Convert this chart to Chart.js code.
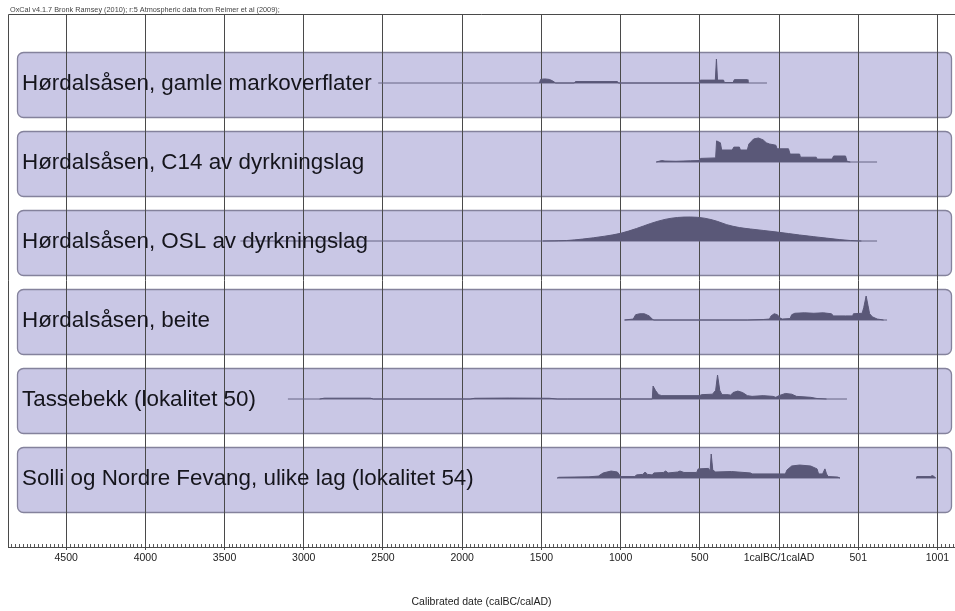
<!DOCTYPE html>
<html>
<head>
<meta charset="utf-8">
<script src="https://cdn.jsdelivr.net/npm/chart.js@4/dist/chart.umd.min.js"></script>
<style>
  html, body { margin: 0; padding: 0; background: #ffffff; }
  #wrap { width: 955px; height: 611px; position: relative; }
</style>
</head>
<body>
<div id="wrap"><canvas id="chart"></canvas></div>
<script>
// Calibrated date axis: negative = calBC, positive = calAD
const tickValues = [-4500, -4000, -3500, -3000, -2500, -2000, -1500, -1000, -500, 0, 500, 1000];
const tickLabels = ['4500', '4000', '3500', '3000', '2500', '2000', '1500', '1000', '500', '1calBC/1calAD', '501', '1001'];

const rowNames = [
  'Hørdalsåsen, gamle markoverflater',
  'Hørdalsåsen, C14 av dyrkningslag',
  'Hørdalsåsen, OSL av dyrkningslag',
  'Hørdalsåsen, beite',
  'Tassebekk (lokalitet 50)',
  'Solli og Nordre Fevang, ulike lag (lokalitet 54)'
];

// Extent of each summed distribution (drawn as the thin base line)
const rangeGamle   = [[-2530, -76]];
const rangeC14     = [[-775, 619]];
const rangeOSL     = [[-3400, 619]];
const rangeBeite   = [[-975, 682]];
const rangeTasse   = [[-3100, 429]];
const rangeSolli   = [[-1400, 385], [865, 990]];

// Summed probability, relative to each row's peak: [year, relative probability]
const probGamle = [
  [-1512, 0], [-1505, 0.15], [-1480, 0.17], [-1450, 0.15], [-1430, 0.09], [-1410, 0],
  [-1292, 0], [-1285, 0.06], [-1020, 0.06], [-1014, 0],
  [-502, 0], [-497, 0.12], [-402, 0.12], [-395, 1.0], [-388, 0.12], [-350, 0.12], [-345, 0.02],
  [-290, 0.02], [-282, 0.14], [-200, 0.14], [-196, 0]
];
const probC14 = [
  [-775, 0], [-740, 0.06], [-720, 0.04], [-650, 0.03], [-560, 0.05], [-505, 0.06], [-495, 0.15],
  [-400, 0.17], [-394, 0.88], [-370, 0.8], [-362, 0.5], [-295, 0.5], [-285, 0.62], [-250, 0.62],
  [-244, 0.5], [-200, 0.5], [-190, 0.75], [-160, 0.96], [-130, 1.0], [-100, 0.92], [-80, 0.8],
  [-60, 0.75], [-20, 0.7], [-12, 0.55], [60, 0.55], [70, 0.33], [130, 0.33], [135, 0.2],
  [235, 0.2], [240, 0.12], [335, 0.12], [345, 0.25], [420, 0.25], [430, 0.02], [450, 0]
];
const probOSL = [
  [-1490, 0], [-1340, 0.02], [-1240, 0.08], [-1100, 0.2], [-1000, 0.32], [-900, 0.52],
  [-810, 0.73], [-720, 0.9], [-640, 0.98], [-560, 1.0], [-470, 0.95], [-390, 0.82],
  [-330, 0.68], [-250, 0.56], [-180, 0.5], [-100, 0.44], [-10, 0.37], [60, 0.31],
  [130, 0.25], [220, 0.18], [300, 0.12], [380, 0.06], [450, 0.02], [520, 0]
];
const probBeite = [
  [-975, 0], [-920, 0.04], [-905, 0.22], [-880, 0.26], [-850, 0.26], [-820, 0.17], [-800, 0.04], [-790, 0],
  [-200, 0], [-100, 0.02], [-60, 0.04], [-50, 0.17], [-30, 0.26], [-10, 0.22], [5, 0.09], [20, 0.04],
  [70, 0.06], [80, 0.22], [100, 0.28], [160, 0.3], [220, 0.28], [280, 0.3], [330, 0.26], [345, 0.17],
  [420, 0.17], [465, 0.17], [470, 0.26], [525, 0.28], [535, 0.52], [550, 1.0], [562, 0.6],
  [572, 0.26], [590, 0.13], [620, 0.04], [660, 0]
];
const probTasse = [
  [-2900, 0], [-2870, 0.035], [-2580, 0.035], [-2560, 0],
  [-1950, 0], [-1920, 0.03], [-1700, 0.04], [-1450, 0.03], [-1400, 0],
  [-800, 0], [-795, 0.54], [-780, 0.36], [-760, 0.18], [-740, 0.14], [-500, 0.14], [-490, 0.18],
  [-420, 0.2], [-400, 0.36], [-388, 1.0], [-374, 0.36], [-360, 0.18], [-320, 0.18], [-305, 0.16],
  [-290, 0.27], [-260, 0.33], [-230, 0.27], [-200, 0.14], [-170, 0.11], [-100, 0.14], [-40, 0.11],
  [-20, 0.07], [0, 0.14], [40, 0.23], [80, 0.2], [110, 0.11], [200, 0.07], [240, 0.02], [300, 0]
];
const probSolli = [
  [-1400, 0], [-1390, 0.03], [-1200, 0.05], [-1140, 0.08], [-1110, 0.21], [-1060, 0.29],
  [-1020, 0.25], [-1000, 0.06], [-910, 0.06], [-900, 0.13], [-860, 0.15], [-845, 0.25],
  [-830, 0.15], [-800, 0.13], [-790, 0.21], [-730, 0.23], [-715, 0.29], [-700, 0.21],
  [-640, 0.25], [-625, 0.29], [-600, 0.23], [-520, 0.23], [-510, 0.38], [-445, 0.4],
  [-435, 0.29], [-428, 1.0], [-418, 0.33], [-400, 0.25], [-300, 0.27], [-180, 0.21],
  [-170, 0.17], [40, 0.17], [50, 0.33], [80, 0.5], [130, 0.54], [200, 0.5], [240, 0.38],
  [250, 0.17], [275, 0.17], [290, 0.38], [300, 0.17], [310, 0.06], [370, 0.04], [385, 0],
  [600, null],
  [865, 0], [870, 0.06], [955, 0.06], [968, 0.1], [980, 0.06], [988, 0]
];

const rowRanges = [rangeGamle, rangeC14, rangeOSL, rangeBeite, rangeTasse, rangeSolli];
const rowProbs  = [probGamle, probC14, probOSL, probBeite, probTasse, probSolli];
const rowSmooth = [false, false, true, false, false, false];

// Vertical layout in axis units (one unit per pixel of plot height)
const Y_MAX = 533;
const ROW_STEP = 79;
const FIRST_BASE = 464;
const PEAK = 24;
const baseOf = i => FIRST_BASE - ROW_STEP * i;

const PANEL_FILL = '#c9c7e5';
const PANEL_EDGE = '#84829c';
const DIST_FILL = '#5a5878';
const BASE_LINE = '#666484';
const FONT = '"Liberation Sans", Arial, sans-serif';

const datasets = [];
rowRanges.forEach((segs, i) => {
  const base = baseOf(i);
  const pts = [];
  segs.forEach((s, k) => {
    if (k > 0) pts.push({ x: (segs[k - 1][1] + s[0]) / 2, y: null });
    pts.push({ x: s[0], y: base }, { x: s[1], y: base });
  });
  datasets.push({
    data: pts, borderColor: BASE_LINE, borderWidth: 1, pointRadius: 0,
    fill: false, spanGaps: false, order: 2
  });
});
rowProbs.forEach((probs, i) => {
  const base = baseOf(i);
  datasets.push({
    data: probs.map(([x, p]) => ({ x, y: p === null ? null : base + p * PEAK })),
    borderColor: DIST_FILL, backgroundColor: DIST_FILL, borderWidth: 1,
    pointRadius: 0, fill: { value: base }, spanGaps: false,
    tension: rowSmooth[i] ? 0.4 : 0,
    cubicInterpolationMode: rowSmooth[i] ? 'monotone' : 'default',
    order: 1
  });
});

const panelsPlugin = {
  id: 'panels',
  beforeDraw(chart) {
    const { ctx, chartArea, scales } = chart;
    ctx.save();
    ctx.fillStyle = '#ffffff';
    ctx.fillRect(0, 0, chart.width, chart.height);
    rowNames.forEach((_, i) => {
      const base = baseOf(i);
      const top = scales.y.getPixelForValue(base + 31);
      const bot = scales.y.getPixelForValue(base - 34);
      const left = chartArea.left + 9.5;
      const right = chartArea.right - 3.5;
      ctx.beginPath();
      ctx.roundRect(left, Math.round(top) + 0.5, right - left, Math.round(bot - top), 6);
      ctx.fillStyle = PANEL_FILL;
      ctx.fill();
      ctx.lineWidth = 1.3;
      ctx.strokeStyle = PANEL_EDGE;
      ctx.stroke();
    });
    ctx.restore();
  },
  afterDatasetsDraw(chart) {
    const { ctx, chartArea, scales } = chart;
    ctx.save();
    ctx.font = '22.4px ' + FONT;
    ctx.fillStyle = '#15151c';
    ctx.textBaseline = 'middle';
    ctx.textAlign = 'left';
    rowNames.forEach((name, i) => {
      ctx.fillText(name, chartArea.left + 14, scales.y.getPixelForValue(baseOf(i)) + 1);
    });
    ctx.restore();
  },
  afterDraw(chart) {
    const { ctx, chartArea, scales } = chart;
    const x = scales.x;
    ctx.save();
    ctx.strokeStyle = '#4a4a4a';
    ctx.lineWidth = 1;
    // frame: left and top edges
    ctx.beginPath();
    ctx.moveTo(chartArea.left + 0.5, chartArea.bottom);
    ctx.lineTo(chartArea.left + 0.5, chartArea.top + 0.5);
    ctx.lineTo(chartArea.right, chartArea.top + 0.5);
    ctx.stroke();
    // minor ticks every 25 years along the date axis
    ctx.strokeStyle = '#5a5a5a';
    ctx.beginPath();
    const start = Math.ceil(x.min / 25) * 25;
    for (let v = start; v <= x.max; v += 25) {
      if (v % 500 === 0) continue;
      const px = Math.round(x.getPixelForValue(v)) + 0.5;
      ctx.moveTo(px, chartArea.bottom);
      ctx.lineTo(px, chartArea.bottom - 3);
    }
    ctx.stroke();
    // header line
    ctx.font = '7.3px ' + FONT;
    ctx.fillStyle = '#444444';
    ctx.textBaseline = 'alphabetic';
    ctx.fillText('OxCal v4.1.7 Bronk Ramsey (2010); r:5 Atmospheric data from Reimer et al (2009);', 10, 12);
    ctx.restore();
  }
};

new Chart(document.getElementById('chart'), {
  type: 'line',
  data: { datasets },
  options: {
    responsive: true,
    maintainAspectRatio: false,
    animation: false,
    events: [],
    layout: { padding: { left: 8, top: 14, right: 0, bottom: 0 } },
    plugins: { legend: { display: false }, tooltip: { enabled: false } },
    scales: {
      x: {
        type: 'linear',
        min: -4867,
        max: 1111,
        afterBuildTicks(scale) { scale.ticks = tickValues.map(v => ({ value: v })); },
        afterFit(scale) { scale.height = 64; },
        ticks: {
          autoSkip: false,
          maxRotation: 0,
          padding: 2,
          color: '#222222',
          font: { family: FONT, size: 10.5 },
          callback: (v) => tickLabels[tickValues.indexOf(v)]
        },
        grid: { color: '#4a4a4a', lineWidth: 1, tickLength: 3, tickColor: '#4a4a4a' },
        border: { display: true, color: '#4a4a4a', width: 1 },
        title: {
          display: true,
          text: 'Calibrated date (calBC/calAD)',
          color: '#222222',
          font: { family: FONT, size: 10.5 },
          padding: { top: 0, bottom: 3 }
        }
      },
      y: { type: 'linear', display: false, min: 0, max: Y_MAX }
    }
  },
  plugins: [panelsPlugin]
});
</script>
</body>
</html>
